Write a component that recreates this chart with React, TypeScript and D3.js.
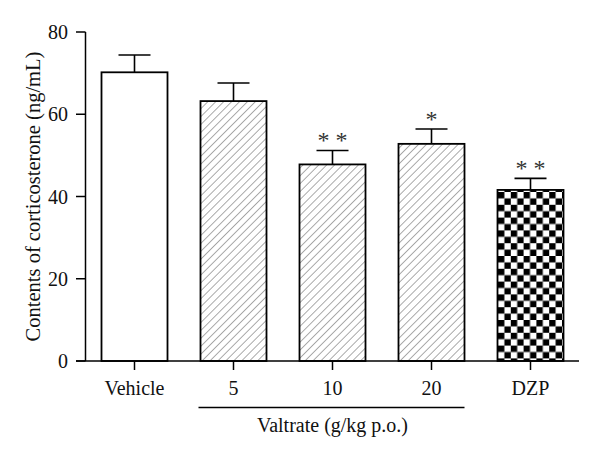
import React from "react";
import * as d3 from "d3";

const categories = ["Vehicle", "5", "10", "20", "DZP"];
const means = [70.2, 63.2, 47.8, 52.8, 41.6];
const errors = [4.2, 4.4, 3.4, 3.6, 2.8];
const stars = ["", "", "**", "*", "**"];
const fills = ["white", "hatch", "hatch", "hatch", "check"];
const yTicks = [0, 20, 40, 60, 80];
const groupLabel = "Valtrate (g/kg p.o.)";
const yLabel = "Contents of corticosterone (ng/mL)";

export default function App() {
  const W = 600, H = 458;
  const x = d3.scaleBand<string>().domain(categories).range([85, 580]).paddingInner(1 / 3).paddingOuter(1 / 6);
  const y = d3.scaleLinear().domain([0, 80]).range([361, 32]);
  const font = "'Liberation Serif', 'Times New Roman', serif";
  const bw = x.bandwidth();
  const fillFor = (f: string) => (f === "hatch" ? "url(#hatch)" : f === "check" ? "url(#check)" : "white");
  const g5 = x("5")!;
  const g20 = x("20")! + bw;
  return (
    <svg width={W} height={H} style={{ position: "absolute", left: 0, top: 0, background: "white" }}>
      <defs>
        <pattern id="hatch" patternUnits="userSpaceOnUse" width="5.6" height="5.6" patternTransform="rotate(45)">
          <line x1="0" y1="0" x2="0" y2="5.6" stroke="#444" strokeWidth="0.9" />
        </pattern>
        <pattern id="check" patternUnits="userSpaceOnUse" width="12.8" height="12.8" x="498" y="0">
          <rect width="12.8" height="12.8" fill="white" />
          <rect width="6.4" height="6.4" fill="black" />
          <rect x="6.4" y="6.4" width="6.4" height="6.4" fill="black" />
        </pattern>
      </defs>
      <rect width={W} height={H} fill="white" />
      {categories.map((c, i) => {
        const x0 = x(c)!;
        const cx = x0 + bw / 2;
        const top = y(means[i]);
        const et = y(means[i] + errors[i]);
        return (
          <g key={c}>
            <line x1={cx} x2={cx} y1={top} y2={et} stroke="black" strokeWidth={1.6} />
            <line x1={cx - 16} x2={cx + 16} y1={et} y2={et} stroke="black" strokeWidth={1.6} />
            <rect x={x0} y={top} width={bw} height={y(0) - top} fill={fillFor(fills[i])} stroke="black" strokeWidth={1.8} />
            {stars[i] && (
              <text x={cx} y={et - 2} textAnchor="middle" fontFamily={font} fontSize={24} fill="#333">
                {stars[i].split("").join(" ")}
              </text>
            )}
            <line x1={cx} x2={cx} y1={361} y2={370} stroke="black" strokeWidth={1.5} />
            <text x={cx} y={395} textAnchor="middle" fontFamily={font} fontSize={20} fill="#111">{c}</text>
          </g>
        );
      })}
      <line x1={85.5} x2={85.5} y1={32} y2={361} stroke="black" strokeWidth={1.5} />
      <line x1={76} x2={579} y1={361} y2={361} stroke="black" strokeWidth={1.5} />
      {yTicks.map((t) => (
        <g key={t}>
          <line x1={76} x2={85.5} y1={y(t)} y2={y(t)} stroke="black" strokeWidth={1.5} />
          <text x={68} y={y(t) + 7} textAnchor="end" fontFamily={font} fontSize={20} fill="#111">{t}</text>
        </g>
      ))}
      <line x1={g5 - 2} x2={g20} y1={407.5} y2={407.5} stroke="black" strokeWidth={1.5} />
      <text x={(g5 + g20) / 2} y={432} textAnchor="middle" fontFamily={font} fontSize={20} fill="#111">{groupLabel}</text>
      <text transform={`translate(40,${(y(0) + y(80)) / 2}) rotate(-90)`} textAnchor="middle" fontFamily={font} fontSize={20.5} fill="#111">{yLabel}</text>
    </svg>
  );
}
